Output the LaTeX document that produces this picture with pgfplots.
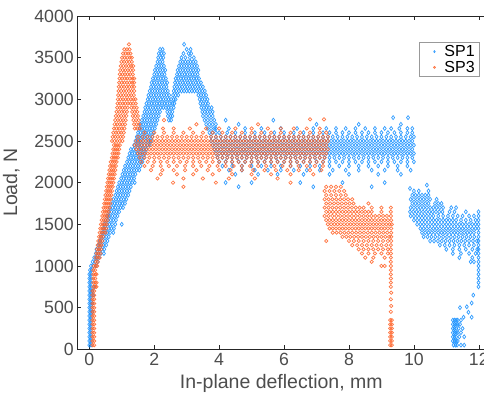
\documentclass[border=0pt]{standalone}
\usepackage{fontspec}
\setmainfont{Liberation Sans}
\usepackage{pgfplots}
\pgfplotsset{compat=1.18}
\definecolor{sp1}{RGB}{15,140,255}
\definecolor{sp3}{RGB}{255,95,35}
\definecolor{axgray}{RGB}{38,38,38}
\definecolor{lblgray}{RGB}{77,77,77}
\begin{document}
\begin{tikzpicture}
\begin{axis}[
  scale only axis, width=408pt, height=333.3pt,
  xmin=-0.37, xmax=12.2, ymin=0, ymax=4000,
  xtick={0,2,4,6,8,10,12}, ytick={0,500,1000,1500,2000,2500,3000,3500,4000},
  ytick pos=left,
  tick align=inside, major tick length=4pt,
  axis line style={axgray, line width=0.6pt},
  tick style={axgray, line width=0.6pt},
  /pgf/number format/assume math mode=true,
  scaled y ticks=false,
  yticklabel style={/pgf/number format/1000 sep={}},
  tick label style={font=\fontsize{17.7}{20}\selectfont, text=lblgray},
  xlabel={In-plane deflection, mm}, ylabel={Load, N},
  every axis x label/.style={at={([yshift=-39.7pt]axis description cs:0.5,0)}, anchor=base, font=\fontsize{19.5}{22}\selectfont, text=lblgray},
  every axis y label/.style={at={([xshift=-66pt]axis description cs:0,0.5)}, anchor=center, rotate=90, font=\fontsize{19.5}{22}\selectfont, text=lblgray},
  legend style={at={(axis description cs:0.987,0.922)}, anchor=north east, draw=black!40, line width=0.6pt, fill=white, font=\fontsize{16}{19}\selectfont, text=black, inner xsep=3pt, inner ysep=1pt, row sep=-1pt},
  legend cell align=left,
  legend image code/.code={\path[draw=none,fill=none] (0pt,0pt) rectangle (20pt,0.1pt); \path[#1,draw=none] plot[mark size=1pt] coordinates {(12pt,0pt)};},
]
\addplot[only marks, mark=diamond, mark size=2pt, color=sp1, mark options={draw=sp1, line width=0.7pt, draw opacity=0.85}] coordinates {
(0,50)(0.05,50)(0,100)(0.05,100)(0,150)(0.05,150)(0,200)(0.05,200)(0,250)(0.05,250)(0,300)(0.05,300)(0,350)(0.05,350)(0,400)(0.05,400)(0,450)(0.05,450)(0.1,450)(0,500)(0.05,500)(0,550)(0.05,550)(0.1,550)(0,600)(0.05,600)(0,650)(0.05,650)(0.12,650)(0,700)(0.05,700)(0.1,700)(0,750)(0.05,750)(0.15,750)(0,800)(0.05,800)(0,850)(0.05,850)(0,900)(0.05,900)(0.02,950)(0.07,950)(0.05,1000)(0.12,1000)(0.2,1000)
(0.1,1050)(0.18,1050)(0.26,1050)
(0.15,1100)(0.22,1100)(0.3,1100)
(0.2,1150)(0.28,1150)(0.36,1150)(0.45,1150)
(0.22,1200)(0.3,1200)(0.38,1200)(0.46,1200)
(0.28,1250)(0.36,1250)(0.44,1250)(0.52,1250)
(0.32,1300)(0.4,1300)(0.48,1300)(0.56,1300)
(0.36,1350)(0.44,1350)(0.52,1350)(0.6,1350)
(0.4,1400)(0.48,1400)(0.56,1400)(0.64,1400)(0.74,1400)
(0.44,1450)(0.52,1450)(0.6,1450)(0.68,1450)(0.76,1450)
(0.46,1500)(0.54,1500)(0.62,1500)(0.7,1500)(0.8,1500)(1.0,1500)
(0.5,1550)(0.58,1550)(0.66,1550)(0.74,1550)(0.82,1550)
(0.55,1600)(0.63,1600)(0.71,1600)(0.79,1600)(0.87,1600)
(0.6,1650)(0.68,1650)(0.76,1650)(0.84,1650)(0.92,1650)
(0.64,1700)(0.72,1700)(0.8,1700)(0.88,1700)(0.96,1700)(1.04,1700)
(0.7,1750)(0.78,1750)(0.86,1750)(0.94,1750)(1.02,1750)(1.1,1750)
(0.74,1800)(0.82,1800)(0.9,1800)(0.98,1800)(1.06,1800)(1.14,1800)
(0.8,1850)(0.88,1850)(0.96,1850)(1.04,1850)(1.12,1850)(1.2,1850)
(0.84,1900)(0.92,1900)(1.0,1900)(1.08,1900)(1.16,1900)(1.24,1900)
(0.88,1950)(0.96,1950)(1.04,1950)(1.12,1950)(1.2,1950)(1.28,1950)
(0.92,2000)(1.0,2000)(1.08,2000)(1.16,2000)(1.24,2000)(1.32,2000)(1.4,2000)
(0.98,2050)(1.06,2050)(1.14,2050)(1.22,2050)(1.3,2050)(1.38,2050)
(1.02,2100)(1.1,2100)(1.18,2100)(1.26,2100)(1.34,2100)(1.42,2100)
(1.06,2150)(1.14,2150)(1.22,2150)(1.3,2150)(1.38,2150)(1.46,2150)(1.54,2150)
(1.1,2200)(1.18,2200)(1.26,2200)(1.34,2200)(1.42,2200)(1.5,2200)(1.58,2200)
(1.16,2250)(1.24,2250)(1.32,2250)(1.4,2250)(1.48,2250)(1.56,2250)(1.64,2250)
(1.2,2300)(1.28,2300)(1.36,2300)(1.44,2300)(1.52,2300)(1.6,2300)(1.68,2300)
(1.24,2350)(1.32,2350)(1.4,2350)(1.48,2350)(1.56,2350)(1.64,2350)(1.72,2350)
(1.28,2400)(1.36,2400)(1.44,2400)(1.52,2400)(1.6,2400)(1.68,2400)(1.76,2400)
(1.38,2450)(1.46,2450)(1.54,2450)(1.62,2450)(1.7,2450)(1.78,2450)(1.86,2450)(3.8,2450)
(1.42,2500)(1.5,2500)(1.58,2500)(1.66,2500)(1.74,2500)(1.82,2500)(1.9,2500)(3.75,2500)
(1.46,2550)(1.54,2550)(1.62,2550)(1.7,2550)(1.78,2550)(1.86,2550)(1.94,2550)(3.75,2550)
(1.5,2600)(1.58,2600)(1.66,2600)(1.74,2600)(1.82,2600)(1.9,2600)(1.98,2600)(3.7,2600)(3.8,2600)(3.9,2600)
(1.54,2650)(1.62,2650)(1.7,2650)(1.78,2650)(1.86,2650)(1.94,2650)(2.02,2650)(3.65,2650)(3.75,2650)(3.85,2650)
(1.58,2700)(1.66,2700)(1.74,2700)(1.82,2700)(1.9,2700)(1.98,2700)(2.06,2700)(3.6,2700)(3.7,2700)(3.8,2700)(3.9,2700)
(1.62,2750)(1.7,2750)(1.78,2750)(1.86,2750)(1.94,2750)(2.02,2750)(2.1,2750)(2.45,2750)(2.52,2750)(3.55,2750)(3.65,2750)(3.75,2750)(3.85,2750)
(1.66,2800)(1.74,2800)(1.82,2800)(1.9,2800)(1.98,2800)(2.06,2800)(2.14,2800)(2.42,2800)(2.5,2800)(2.56,2800)(3.5,2800)(3.6,2800)(3.7,2800)(3.8,2800)
(1.7,2850)(1.78,2850)(1.86,2850)(1.94,2850)(2.02,2850)(2.1,2850)(2.18,2850)(2.4,2850)(2.48,2850)(2.56,2850)(3.48,2850)(3.56,2850)(3.64,2850)(3.72,2850)(3.8,2850)
(1.72,2900)(1.8,2900)(1.88,2900)(1.96,2900)(2.04,2900)(2.12,2900)(2.2,2900)(2.28,2900)(2.36,2900)(2.44,2900)(2.52,2900)(2.6,2900)(3.45,2900)(3.53,2900)(3.61,2900)(3.69,2900)(3.77,2900)
(1.76,2950)(1.84,2950)(1.92,2950)(2.0,2950)(2.08,2950)(2.16,2950)(2.24,2950)(2.32,2950)(2.4,2950)(2.48,2950)(2.56,2950)(2.62,2950)(3.42,2950)(3.5,2950)(3.58,2950)(3.66,2950)
(1.8,3000)(1.88,3000)(1.96,3000)(2.04,3000)(2.12,3000)(2.2,3000)(2.28,3000)(2.36,3000)(2.44,3000)(2.52,3000)(2.6,3000)(2.66,3000)(3.4,3000)(3.48,3000)(3.56,3000)(3.64,3000)
(1.82,3050)(1.9,3050)(1.98,3050)(2.06,3050)(2.14,3050)(2.22,3050)(2.3,3050)(2.38,3050)(2.46,3050)(2.58,3050)(2.66,3050)(2.74,3050)(3.36,3050)(3.44,3050)(3.52,3050)(3.6,3050)
(1.86,3100)(1.94,3100)(2.02,3100)(2.1,3100)(2.18,3100)(2.26,3100)(2.34,3100)(2.42,3100)(2.6,3100)(2.68,3100)(2.76,3100)(2.84,3100)(2.92,3100)(3.0,3100)(3.08,3100)(3.16,3100)(3.24,3100)(3.32,3100)(3.4,3100)(3.48,3100)(3.56,3100)
(1.9,3150)(1.98,3150)(2.06,3150)(2.14,3150)(2.22,3150)(2.3,3150)(2.38,3150)(2.62,3150)(2.7,3150)(2.78,3150)(2.86,3150)(2.94,3150)(3.02,3150)(3.1,3150)(3.18,3150)(3.26,3150)(3.34,3150)(3.42,3150)(3.5,3150)
(1.92,3200)(2.0,3200)(2.08,3200)(2.16,3200)(2.24,3200)(2.32,3200)(2.4,3200)(2.64,3200)(2.72,3200)(2.8,3200)(2.88,3200)(2.96,3200)(3.04,3200)(3.12,3200)(3.2,3200)(3.28,3200)(3.36,3200)(3.44,3200)
(1.96,3250)(2.04,3250)(2.12,3250)(2.2,3250)(2.28,3250)(2.36,3250)(2.66,3250)(2.74,3250)(2.82,3250)(2.9,3250)(2.98,3250)(3.06,3250)(3.14,3250)(3.22,3250)(3.3,3250)(3.38,3250)
(2.0,3300)(2.08,3300)(2.16,3300)(2.24,3300)(2.32,3300)(2.7,3300)(2.78,3300)(2.86,3300)(2.94,3300)(3.02,3300)(3.1,3300)(3.18,3300)(3.26,3300)(3.34,3300)
(2.02,3350)(2.1,3350)(2.18,3350)(2.26,3350)(2.34,3350)(2.72,3350)(2.8,3350)(2.88,3350)(2.96,3350)(3.04,3350)(3.12,3350)(3.2,3350)(3.28,3350)(3.36,3350)
(2.06,3400)(2.14,3400)(2.22,3400)(2.3,3400)(2.76,3400)(2.84,3400)(2.92,3400)(3.0,3400)(3.08,3400)(3.16,3400)(3.24,3400)(3.32,3400)
(2.1,3450)(2.18,3450)(2.26,3450)(2.8,3450)(2.88,3450)(2.96,3450)(3.04,3450)(3.12,3450)(3.2,3450)(3.28,3450)
(2.12,3500)(2.2,3500)(2.28,3500)(2.84,3500)(2.96,3500)(3.1,3500)(3.22,3500)
(2.14,3550)(2.22,3550)(2.3,3550)(2.9,3550)(3.06,3550)(3.14,3550)
(2.18,3600)(2.26,3600)(3.0,3600)(3.12,3600)
(2.92,3660)
(4.2,2750)(5.67,2750)(9.36,2780)(9.82,2780)
(4.6,2700)(7.0,2700)(8.3,2700)(9.6,2700)
(3.9,2650)(4.3,2650)(4.8,2650)(5.3,2650)(5.9,2650)(6.4,2650)(6.9,2650)(7.3,2650)(7.6,2650)(7.9,2650)(8.2,2650)(8.5,2650)(8.8,2650)(9.1,2650)(9.3,2650)(9.55,2650)(9.8,2650)(9.95,2650)
(4.0,2600)(4.25,2600)(4.5,2600)(4.8,2600)(5.1,2600)(5.4,2600)(5.7,2600)(6.0,2600)(6.3,2600)(6.6,2600)(6.9,2600)(7.2,2600)(7.4,2600)(7.6,2600)(7.8,2600)(8.0,2600)(8.2,2600)(8.4,2600)(8.6,2600)(8.8,2600)(9.0,2600)(9.2,2600)(9.4,2600)(9.6,2600)(9.8,2600)(9.95,2600)
(3.9,2550)(4.05,2550)(4.2,2550)(4.35,2550)(4.5,2550)(4.65,2550)(4.8,2550)(4.95,2550)(5.1,2550)(5.25,2550)(5.4,2550)(5.55,2550)(5.7,2550)(5.85,2550)(6.0,2550)(6.15,2550)(6.3,2550)(6.45,2550)(6.6,2550)(6.75,2550)(6.9,2550)(7.05,2550)(7.2,2550)(7.35,2550)(7.5,2550)(7.65,2550)(7.8,2550)(7.95,2550)(8.1,2550)(8.25,2550)(8.4,2550)(8.55,2550)(8.7,2550)(8.85,2550)(9.0,2550)(9.15,2550)(9.3,2550)(9.45,2550)(9.6,2550)(9.75,2550)(9.9,2550)(10.0,2550)
(3.85,2500)(3.95,2500)(4.05,2500)(4.15,2500)(4.25,2500)(4.35,2500)(4.45,2500)(4.55,2500)(4.65,2500)(4.75,2500)(4.85,2500)(4.95,2500)(5.05,2500)(5.15,2500)(5.25,2500)(5.35,2500)(5.45,2500)(5.55,2500)(5.65,2500)(5.75,2500)(5.85,2500)(5.95,2500)(6.05,2500)(6.15,2500)(6.25,2500)(6.35,2500)(6.45,2500)(6.55,2500)(6.65,2500)(6.75,2500)(6.85,2500)(6.95,2500)(7.05,2500)(7.15,2500)(7.25,2500)(7.35,2500)(7.45,2500)(7.55,2500)(7.65,2500)(7.75,2500)(7.85,2500)(7.95,2500)(8.05,2500)(8.15,2500)(8.25,2500)(8.35,2500)(8.45,2500)(8.55,2500)(8.65,2500)(8.75,2500)(8.85,2500)(8.95,2500)(9.05,2500)(9.15,2500)(9.25,2500)(9.35,2500)(9.45,2500)(9.55,2500)(9.65,2500)(9.75,2500)(9.85,2500)(9.95,2500)
(3.9,2450)(4.0,2450)(4.1,2450)(4.2,2450)(4.3,2450)(4.4,2450)(4.5,2450)(4.6,2450)(4.7,2450)(4.8,2450)(4.9,2450)(5.0,2450)(5.1,2450)(5.2,2450)(5.3,2450)(5.4,2450)(5.5,2450)(5.6,2450)(5.7,2450)(5.8,2450)(5.9,2450)(6.0,2450)(6.1,2450)(6.2,2450)(6.3,2450)(6.4,2450)(6.5,2450)(6.6,2450)(6.7,2450)(6.8,2450)(6.9,2450)(7.0,2450)(7.1,2450)(7.2,2450)(7.3,2450)(7.4,2450)(7.5,2450)(7.6,2450)(7.7,2450)(7.8,2450)(7.9,2450)(8.0,2450)(8.1,2450)(8.2,2450)(8.3,2450)(8.4,2450)(8.5,2450)(8.6,2450)(8.7,2450)(8.8,2450)(8.9,2450)(9.0,2450)(9.1,2450)(9.2,2450)(9.3,2450)(9.4,2450)(9.5,2450)(9.6,2450)(9.7,2450)(9.8,2450)(9.9,2450)(10.0,2450)
(3.85,2400)(3.95,2400)(4.05,2400)(4.15,2400)(4.25,2400)(4.35,2400)(4.45,2400)(4.55,2400)(4.65,2400)(4.75,2400)(4.85,2400)(4.95,2400)(5.05,2400)(5.15,2400)(5.25,2400)(5.35,2400)(5.45,2400)(5.55,2400)(5.65,2400)(5.75,2400)(5.85,2400)(5.95,2400)(6.05,2400)(6.15,2400)(6.25,2400)(6.35,2400)(6.45,2400)(6.55,2400)(6.65,2400)(6.75,2400)(6.85,2400)(6.95,2400)(7.05,2400)(7.15,2400)(7.25,2400)(7.35,2400)(7.45,2400)(7.55,2400)(7.65,2400)(7.75,2400)(7.85,2400)(7.95,2400)(8.05,2400)(8.15,2400)(8.25,2400)(8.35,2400)(8.45,2400)(8.55,2400)(8.65,2400)(8.75,2400)(8.85,2400)(8.95,2400)(9.05,2400)(9.15,2400)(9.25,2400)(9.35,2400)(9.45,2400)(9.55,2400)(9.65,2400)(9.75,2400)(9.85,2400)(9.95,2400)
(3.9,2350)(4.0,2350)(4.1,2350)(4.2,2350)(4.3,2350)(4.4,2350)(4.5,2350)(4.6,2350)(4.7,2350)(4.8,2350)(4.9,2350)(5.0,2350)(5.1,2350)(5.2,2350)(5.3,2350)(5.4,2350)(5.5,2350)(5.6,2350)(5.7,2350)(5.8,2350)(5.9,2350)(6.0,2350)(6.1,2350)(6.2,2350)(6.3,2350)(6.4,2350)(6.5,2350)(6.6,2350)(6.7,2350)(6.8,2350)(6.9,2350)(7.0,2350)(7.1,2350)(7.2,2350)(7.3,2350)(7.4,2350)(7.5,2350)(7.6,2350)(7.7,2350)(7.8,2350)(7.9,2350)(8.0,2350)(8.1,2350)(8.2,2350)(8.3,2350)(8.4,2350)(8.5,2350)(8.6,2350)(8.7,2350)(8.8,2350)(8.9,2350)(9.0,2350)(9.1,2350)(9.2,2350)(9.3,2350)(9.4,2350)(9.5,2350)(9.6,2350)(9.7,2350)(9.8,2350)(9.9,2350)(10.0,2350)
(3.95,2300)(4.1,2300)(4.25,2300)(4.4,2300)(4.55,2300)(4.7,2300)(4.85,2300)(5.0,2300)(5.15,2300)(5.3,2300)(5.45,2300)(5.6,2300)(5.75,2300)(5.9,2300)(6.05,2300)(6.2,2300)(6.35,2300)(6.5,2300)(6.65,2300)(6.8,2300)(6.95,2300)(7.1,2300)(7.25,2300)(7.4,2300)(7.55,2300)(7.7,2300)(7.85,2300)(8.0,2300)(8.15,2300)(8.3,2300)(8.45,2300)(8.6,2300)(8.75,2300)(8.9,2300)(9.05,2300)(9.2,2300)(9.35,2300)(9.5,2300)(9.65,2300)(9.8,2300)(9.95,2300)
(4.0,2250)(4.2,2250)(4.4,2250)(4.6,2250)(4.8,2250)(5.0,2250)(5.2,2250)(5.4,2250)(5.6,2250)(5.8,2250)(6.0,2250)(6.2,2250)(6.4,2250)(6.6,2250)(6.8,2250)(7.0,2250)(7.2,2250)(7.4,2250)(7.6,2250)(7.8,2250)(8.0,2250)(8.2,2250)(8.4,2250)(8.6,2250)(8.8,2250)(9.0,2250)(9.2,2250)(9.4,2250)(9.6,2250)(9.8,2250)(10.0,2250)
(4.1,2200)(4.4,2200)(4.7,2200)(5.0,2200)(5.3,2200)(5.6,2200)(5.9,2200)(6.2,2200)(6.5,2200)(6.8,2200)(7.1,2200)(7.4,2200)(7.7,2200)(8.0,2200)(8.3,2200)(8.6,2200)(8.9,2200)(9.2,2200)(9.5,2200)(9.8,2200)
(4.3,2150)(4.7,2150)(5.1,2150)(5.5,2150)(5.9,2150)(6.3,2150)(6.7,2150)(7.1,2150)(7.5,2150)(7.9,2150)(8.3,2150)(8.7,2150)(9.1,2150)(9.5,2150)(9.9,2150)
(4.5,2100)(5.2,2100)(5.8,2100)(6.6,2100)(7.4,2100)(8.0,2100)(8.9,2100)(9.6,2100)
(4.2,2000)(5.0,2000)(6.5,2000)(7.8,2000)(9.1,2000)
(4.6,1950)(6.9,1950)(8.7,1950)
(10.4,1970)(9.88,1930)
(10.0,1900)(10.15,1900)(10.45,1900)
(9.95,1850)(10.05,1850)(10.15,1850)(10.25,1850)(10.35,1850)(10.45,1850)
(9.9,1800)(10.0,1800)(10.1,1800)(10.2,1800)(10.3,1800)(10.4,1800)(10.5,1800)(10.7,1800)
(9.95,1750)(10.05,1750)(10.15,1750)(10.25,1750)(10.35,1750)(10.45,1750)(10.65,1750)(10.75,1750)(10.85,1750)
(9.9,1700)(10.0,1700)(10.1,1700)(10.2,1700)(10.3,1700)(10.4,1700)(10.5,1700)(10.6,1700)(10.7,1700)(10.8,1700)(10.9,1700)(11.15,1700)(11.3,1700)
(9.88,1650)(9.98,1650)(10.08,1650)(10.18,1650)(10.28,1650)(10.38,1650)(10.48,1650)(10.58,1650)(10.68,1650)(10.78,1650)(10.88,1650)(11.1,1650)(11.25,1650)(11.6,1650)(11.99,1650)
(9.9,1600)(10.0,1600)(10.1,1600)(10.2,1600)(10.3,1600)(10.4,1600)(10.5,1600)(10.6,1600)(10.75,1600)(10.9,1600)(11.05,1600)(11.2,1600)(11.35,1600)(11.5,1600)(11.7,1600)(11.85,1600)(11.99,1600)
(10.0,1550)(10.1,1550)(10.2,1550)(10.3,1550)(10.4,1550)(10.5,1550)(10.6,1550)(10.7,1550)(10.8,1550)(10.9,1550)(11.0,1550)(11.1,1550)(11.2,1550)(11.3,1550)(11.45,1550)(11.6,1550)(11.75,1550)(11.9,1550)(11.99,1550)
(10.1,1500)(10.2,1500)(10.3,1500)(10.4,1500)(10.5,1500)(10.6,1500)(10.7,1500)(10.8,1500)(10.9,1500)(11.0,1500)(11.1,1500)(11.2,1500)(11.3,1500)(11.4,1500)(11.5,1500)(11.6,1500)(11.7,1500)(11.8,1500)(11.9,1500)(11.99,1500)
(10.2,1450)(10.3,1450)(10.4,1450)(10.5,1450)(10.6,1450)(10.7,1450)(10.8,1450)(10.9,1450)(11.0,1450)(11.1,1450)(11.2,1450)(11.3,1450)(11.4,1450)(11.5,1450)(11.6,1450)(11.7,1450)(11.8,1450)(11.9,1450)(11.99,1450)
(10.25,1400)(10.35,1400)(10.45,1400)(10.55,1400)(10.65,1400)(10.75,1400)(10.85,1400)(10.95,1400)(11.05,1400)(11.15,1400)(11.25,1400)(11.35,1400)(11.45,1400)(11.55,1400)(11.65,1400)(11.75,1400)(11.85,1400)(11.99,1400)
(10.3,1350)(10.42,1350)(10.54,1350)(10.66,1350)(10.78,1350)(10.9,1350)(11.02,1350)(11.14,1350)(11.26,1350)(11.38,1350)(11.5,1350)(11.62,1350)(11.74,1350)(11.86,1350)(11.99,1350)
(10.5,1300)(10.62,1300)(10.74,1300)(10.86,1300)(10.98,1300)(11.1,1300)(11.22,1300)(11.34,1300)(11.46,1300)(11.58,1300)(11.7,1300)(11.82,1300)(11.94,1300)(11.99,1300)
(10.8,1250)(10.95,1250)(11.1,1250)(11.25,1250)(11.4,1250)(11.55,1250)(11.7,1250)(11.85,1250)(11.99,1250)
(11.0,1200)(11.2,1200)(11.4,1200)(11.6,1200)(11.8,1200)(11.95,1200)(11.99,1200)
(11.2,1150)(11.45,1150)(11.7,1150)(11.9,1150)(11.99,1150)
(11.4,1100)(11.8,1100)(11.99,1100)
(11.75,1050)(11.85,1050)(11.99,1050)
(11.99,1000)(11.99,950)(11.99,900)(11.99,850)(11.99,800)(11.99,750)
(11.83,650)(11.78,555)(11.63,510)(11.42,500)(11.68,445)(11.53,385)(11.78,385)
(11.2,350)(11.25,350)(11.3,350)(11.35,350)(11.45,350)
(11.2,300)(11.25,300)(11.3,300)(11.35,300)(11.42,300)
(11.2,250)(11.25,250)(11.3,250)(11.38,250)(11.5,250)
(11.2,200)(11.25,200)(11.3,200)(11.35,200)(11.45,200)
(11.2,150)(11.25,150)(11.3,150)(11.4,150)(11.55,150)
(11.2,100)(11.25,100)(11.3,100)(11.35,100)
(11.22,50)(11.28,50)(11.33,50)(11.45,50)(11.55,50)
};
\addlegendentry{SP1}
\addplot[only marks, mark=o, mark size=1.7pt, color=sp3, mark options={draw=sp3, line width=0.7pt, draw opacity=0.85}] coordinates {
(0.1,50)(0.15,50)(0.1,100)(0.15,100)(0.1,150)(0.15,150)(0.1,200)(0.15,200)(0.1,250)(0.15,250)(0.1,300)(0.15,300)(0.1,350)(0.15,350)(0.1,400)(0.15,400)(0.1,450)(0.15,450)(0.1,500)(0.15,500)(0.1,550)(0.15,550)(0.1,600)(0.15,600)(0.1,650)(0.15,650)(0.1,700)(0.15,700)
(0.12,750)(0.18,750)(0.22,750)(0.12,800)(0.18,800)(0.22,800)(0.12,850)(0.18,850)(0.12,900)(0.18,900)(0.22,900)(0.12,950)(0.18,950)(0.14,1000)(0.2,1000)(0.24,1000)
(0.2,1050)(0.26,1050)
(0.2,1100)(0.26,1100)(0.32,1100)
(0.22,1150)(0.28,1150)(0.34,1150)
(0.24,1200)(0.3,1200)(0.36,1200)
(0.26,1250)(0.32,1250)(0.38,1250)
(0.28,1300)(0.34,1300)(0.4,1300)
(0.3,1350)(0.36,1350)(0.42,1350)
(0.32,1400)(0.38,1400)(0.44,1400)(0.5,1400)
(0.34,1450)(0.4,1450)(0.46,1450)(0.52,1450)
(0.36,1500)(0.42,1500)(0.48,1500)(0.54,1500)
(0.38,1550)(0.44,1550)(0.5,1550)(0.56,1550)
(0.4,1600)(0.46,1600)(0.52,1600)(0.58,1600)
(0.42,1650)(0.48,1650)(0.54,1650)(0.6,1650)
(0.44,1700)(0.5,1700)(0.56,1700)(0.62,1700)
(0.46,1750)(0.52,1750)(0.58,1750)(0.64,1750)
(0.48,1800)(0.54,1800)(0.6,1800)(0.66,1800)
(0.5,1850)(0.56,1850)(0.62,1850)(0.68,1850)
(0.52,1900)(0.58,1900)(0.64,1900)(0.7,1900)
(0.54,1950)(0.6,1950)(0.66,1950)(0.72,1950)
(0.56,2000)(0.62,2000)(0.68,2000)(0.74,2000)
(0.58,2050)(0.64,2050)(0.7,2050)(0.76,2050)
(0.6,2100)(0.66,2100)(0.72,2100)(0.78,2100)
(0.62,2150)(0.68,2150)(0.74,2150)(0.8,2150)
(0.64,2200)(0.7,2200)(0.76,2200)(0.82,2200)
(0.66,2250)(0.72,2250)(0.78,2250)(0.84,2250)
(0.7,2300)(0.76,2300)(0.82,2300)(0.88,2300)
(0.72,2350)(0.78,2350)(0.84,2350)(0.9,2350)
(0.74,2400)(0.8,2400)(0.86,2400)(0.92,2400)
(0.76,2450)(0.82,2450)(0.88,2450)(0.94,2450)
(0.7,2500)(0.78,2500)(0.86,2500)(0.94,2500)(1.02,2500)
(0.72,2550)(0.8,2550)(0.88,2550)(0.96,2550)(1.04,2550)
(0.74,2600)(0.82,2600)(0.9,2600)(0.98,2600)(1.06,2600)
(0.76,2650)(0.84,2650)(0.92,2650)(1.0,2650)(1.08,2650)(1.4,2650)(1.48,2650)(1.56,2650)
(0.78,2700)(0.86,2700)(0.94,2700)(1.02,2700)(1.1,2700)(1.38,2700)(1.46,2700)(1.54,2700)
(0.8,2750)(0.88,2750)(0.96,2750)(1.04,2750)(1.12,2750)(1.36,2750)(1.44,2750)(1.52,2750)
(0.82,2800)(0.9,2800)(0.98,2800)(1.06,2800)(1.14,2800)(1.34,2800)(1.42,2800)(1.5,2800)
(0.84,2850)(0.92,2850)(1.0,2850)(1.08,2850)(1.16,2850)(1.32,2850)(1.4,2850)(1.48,2850)
(0.86,2900)(0.94,2900)(1.02,2900)(1.1,2900)(1.18,2900)(1.3,2900)(1.38,2900)(1.46,2900)
(0.87,2950)(0.95,2950)(1.03,2950)(1.11,2950)(1.19,2950)(1.27,2950)(1.35,2950)(1.43,2950)
(0.88,3000)(0.96,3000)(1.04,3000)(1.12,3000)(1.2,3000)(1.28,3000)(1.36,3000)(1.42,3000)
(0.89,3050)(0.97,3050)(1.05,3050)(1.13,3050)(1.21,3050)(1.29,3050)(1.37,3050)
(0.9,3100)(0.98,3100)(1.06,3100)(1.14,3100)(1.22,3100)(1.3,3100)(1.38,3100)
(0.91,3150)(0.99,3150)(1.07,3150)(1.15,3150)(1.23,3150)(1.31,3150)(1.38,3150)
(0.92,3200)(1.0,3200)(1.08,3200)(1.16,3200)(1.24,3200)(1.32,3200)(1.38,3200)
(0.93,3250)(1.01,3250)(1.09,3250)(1.17,3250)(1.25,3250)(1.33,3250)(1.38,3250)
(0.94,3300)(1.02,3300)(1.1,3300)(1.18,3300)(1.26,3300)(1.34,3300)
(0.95,3350)(1.03,3350)(1.11,3350)(1.19,3350)(1.27,3350)(1.35,3350)
(0.97,3400)(1.05,3400)(1.13,3400)(1.21,3400)(1.29,3400)(1.35,3400)
(0.99,3450)(1.07,3450)(1.15,3450)(1.23,3450)(1.31,3450)
(1.01,3500)(1.09,3500)(1.17,3500)(1.25,3500)(1.31,3500)
(1.04,3550)(1.12,3550)(1.2,3550)(1.27,3550)
(1.08,3600)(1.16,3600)(1.24,3600)
(1.22,3660)
(2.3,2750)(6.8,2760)(7.23,2760)
(3.3,2700)(5.2,2700)
(2.27,2650)(2.6,2650)(3.1,2650)(3.6,2650)(4.0,2650)(4.5,2650)(5.0,2650)(5.5,2650)(5.9,2650)(6.3,2650)(6.7,2650)(7.1,2650)
(1.7,2600)(2.0,2600)(2.3,2600)(2.6,2600)(2.9,2600)(3.2,2600)(3.5,2600)(3.8,2600)(4.1,2600)(4.4,2600)(4.7,2600)(5.0,2600)(5.3,2600)(5.6,2600)(5.9,2600)(6.2,2600)(6.5,2600)(6.8,2600)(7.1,2600)(7.3,2600)
(1.5,2550)(1.65,2550)(1.8,2550)(1.95,2550)(2.1,2550)(2.25,2550)(2.4,2550)(2.55,2550)(2.7,2550)(2.85,2550)(3.0,2550)(3.15,2550)(3.3,2550)(3.45,2550)(3.6,2550)(3.75,2550)(3.9,2550)(4.05,2550)(4.2,2550)(4.35,2550)(4.5,2550)(4.65,2550)(4.8,2550)(4.95,2550)(5.1,2550)(5.25,2550)(5.4,2550)(5.55,2550)(5.7,2550)(5.85,2550)(6.0,2550)(6.15,2550)(6.3,2550)(6.45,2550)(6.6,2550)(6.75,2550)(6.9,2550)(7.05,2550)(7.2,2550)(7.35,2550)
(1.45,2500)(1.55,2500)(1.65,2500)(1.75,2500)(1.85,2500)(1.95,2500)(2.05,2500)(2.15,2500)(2.25,2500)(2.35,2500)(2.45,2500)(2.55,2500)(2.65,2500)(2.75,2500)(2.85,2500)(2.95,2500)(3.05,2500)(3.15,2500)(3.25,2500)(3.35,2500)(3.45,2500)(3.55,2500)(3.65,2500)(3.75,2500)(3.85,2500)(3.95,2500)(4.05,2500)(4.15,2500)(4.25,2500)(4.35,2500)(4.45,2500)(4.55,2500)(4.65,2500)(4.75,2500)(4.85,2500)(4.95,2500)(5.05,2500)(5.15,2500)(5.25,2500)(5.35,2500)(5.45,2500)(5.55,2500)(5.65,2500)(5.75,2500)(5.85,2500)(5.95,2500)(6.05,2500)(6.15,2500)(6.25,2500)(6.35,2500)(6.45,2500)(6.55,2500)(6.65,2500)(6.75,2500)(6.85,2500)(6.95,2500)(7.05,2500)(7.15,2500)(7.25,2500)(7.35,2500)
(1.4,2450)(1.5,2450)(1.6,2450)(1.7,2450)(1.8,2450)(1.9,2450)(2.0,2450)(2.1,2450)(2.2,2450)(2.3,2450)(2.4,2450)(2.5,2450)(2.6,2450)(2.7,2450)(2.8,2450)(2.9,2450)(3.0,2450)(3.1,2450)(3.2,2450)(3.3,2450)(3.4,2450)(3.5,2450)(3.6,2450)(3.7,2450)(3.8,2450)(3.9,2450)(4.0,2450)(4.1,2450)(4.2,2450)(4.3,2450)(4.4,2450)(4.5,2450)(4.6,2450)(4.7,2450)(4.8,2450)(4.9,2450)(5.0,2450)(5.1,2450)(5.2,2450)(5.3,2450)(5.4,2450)(5.5,2450)(5.6,2450)(5.7,2450)(5.8,2450)(5.9,2450)(6.0,2450)(6.1,2450)(6.2,2450)(6.3,2450)(6.4,2450)(6.5,2450)(6.6,2450)(6.7,2450)(6.8,2450)(6.9,2450)(7.0,2450)(7.1,2450)(7.2,2450)(7.3,2450)
(1.45,2400)(1.55,2400)(1.65,2400)(1.75,2400)(1.85,2400)(1.95,2400)(2.05,2400)(2.15,2400)(2.25,2400)(2.35,2400)(2.45,2400)(2.55,2400)(2.65,2400)(2.75,2400)(2.85,2400)(2.95,2400)(3.05,2400)(3.15,2400)(3.25,2400)(3.35,2400)(3.45,2400)(3.55,2400)(3.65,2400)(3.75,2400)(3.85,2400)(3.95,2400)(4.05,2400)(4.15,2400)(4.25,2400)(4.35,2400)(4.45,2400)(4.55,2400)(4.65,2400)(4.75,2400)(4.85,2400)(4.95,2400)(5.05,2400)(5.15,2400)(5.25,2400)(5.35,2400)(5.45,2400)(5.55,2400)(5.65,2400)(5.75,2400)(5.85,2400)(5.95,2400)(6.05,2400)(6.15,2400)(6.25,2400)(6.35,2400)(6.45,2400)(6.55,2400)(6.65,2400)(6.75,2400)(6.85,2400)(6.95,2400)(7.05,2400)(7.15,2400)(7.25,2400)(7.35,2400)
(1.5,2350)(1.6,2350)(1.7,2350)(1.8,2350)(1.9,2350)(2.0,2350)(2.1,2350)(2.2,2350)(2.3,2350)(2.4,2350)(2.5,2350)(2.6,2350)(2.7,2350)(2.8,2350)(2.9,2350)(3.0,2350)(3.1,2350)(3.2,2350)(3.3,2350)(3.4,2350)(3.5,2350)(3.6,2350)(3.7,2350)(3.8,2350)(3.9,2350)(4.0,2350)(4.1,2350)(4.2,2350)(4.3,2350)(4.4,2350)(4.5,2350)(4.6,2350)(4.7,2350)(4.8,2350)(4.9,2350)(5.0,2350)(5.1,2350)(5.2,2350)(5.3,2350)(5.4,2350)(5.5,2350)(5.6,2350)(5.7,2350)(5.8,2350)(5.9,2350)(6.0,2350)(6.1,2350)(6.2,2350)(6.3,2350)(6.4,2350)(6.5,2350)(6.6,2350)(6.7,2350)(6.8,2350)(6.9,2350)(7.0,2350)(7.1,2350)(7.2,2350)(7.3,2350)
(1.55,2300)(1.7,2300)(1.85,2300)(2.0,2300)(2.15,2300)(2.3,2300)(2.45,2300)(2.6,2300)(2.75,2300)(2.9,2300)(3.05,2300)(3.2,2300)(3.35,2300)(3.5,2300)(3.65,2300)(3.8,2300)(3.95,2300)(4.1,2300)(4.25,2300)(4.4,2300)(4.55,2300)(4.7,2300)(4.85,2300)(5.0,2300)(5.15,2300)(5.3,2300)(5.45,2300)(5.6,2300)(5.75,2300)(5.9,2300)(6.05,2300)(6.2,2300)(6.35,2300)(6.5,2300)(6.65,2300)(6.8,2300)(6.95,2300)(7.1,2300)(7.25,2300)
(1.6,2250)(1.8,2250)(2.0,2250)(2.2,2250)(2.4,2250)(2.6,2250)(2.8,2250)(3.0,2250)(3.2,2250)(3.4,2250)(3.6,2250)(3.8,2250)(4.0,2250)(4.2,2250)(4.4,2250)(4.6,2250)(4.8,2250)(5.0,2250)(5.2,2250)(5.4,2250)(5.6,2250)(5.8,2250)(6.0,2250)(6.2,2250)(6.4,2250)(6.6,2250)(6.8,2250)(7.0,2250)(7.2,2250)
(1.7,2200)(1.95,2200)(2.2,2200)(2.45,2200)(2.7,2200)(2.95,2200)(3.2,2200)(3.45,2200)(3.7,2200)(3.95,2200)(4.2,2200)(4.45,2200)(4.7,2200)(4.95,2200)(5.2,2200)(5.45,2200)(5.7,2200)(5.95,2200)(6.2,2200)(6.45,2200)(6.7,2200)(6.95,2200)(7.2,2200)
(1.9,2150)(2.25,2150)(2.6,2150)(2.95,2150)(3.3,2150)(3.65,2150)(4.0,2150)(4.35,2150)(4.7,2150)(5.05,2150)(5.4,2150)(5.75,2150)(6.1,2150)(6.45,2150)(6.8,2150)(7.15,2150)
(2.2,2100)(2.7,2100)(3.2,2100)(3.8,2100)(4.4,2100)(5.0,2100)(5.6,2100)(6.2,2100)(6.9,2100)
(2.1,2050)(2.9,2050)(3.5,2050)(4.3,2050)(5.1,2050)(5.8,2050)
(2.58,2000)(3.9,2000)(6.2,2000)(2.9,1950)
(7.3,1950)(7.45,1950)(7.6,1950)(7.75,1950)
(7.25,1900)(7.4,1900)(7.55,1900)(7.7,1900)(7.85,1900)
(7.3,1850)(7.45,1850)(7.6,1850)(7.75,1850)(7.9,1850)
(7.25,1800)(7.37,1800)(7.49,1800)(7.61,1800)(7.73,1800)(7.85,1800)(7.97,1800)(8.1,1800)
(7.3,1750)(7.42,1750)(7.54,1750)(7.66,1750)(7.78,1750)(7.9,1750)(8.02,1750)(8.14,1750)(8.6,1750)
(7.25,1700)(7.37,1700)(7.49,1700)(7.61,1700)(7.73,1700)(7.85,1700)(7.97,1700)(8.09,1700)(8.21,1700)(8.33,1700)(8.45,1700)(8.7,1700)(9.0,1700)(9.29,1700)
(7.3,1650)(7.4,1650)(7.5,1650)(7.6,1650)(7.7,1650)(7.8,1650)(7.9,1650)(8.0,1650)(8.1,1650)(8.2,1650)(8.3,1650)(8.4,1650)(8.5,1650)(8.6,1650)(8.7,1650)(9.0,1650)(9.29,1650)
(7.25,1600)(7.37,1600)(7.49,1600)(7.61,1600)(7.73,1600)(7.85,1600)(7.97,1600)(8.09,1600)(8.21,1600)(8.33,1600)(8.45,1600)(8.57,1600)(8.69,1600)(8.81,1600)(8.93,1600)(9.05,1600)(9.17,1600)(9.29,1600)
(7.3,1550)(7.4,1550)(7.5,1550)(7.6,1550)(7.7,1550)(7.8,1550)(7.9,1550)(8.0,1550)(8.1,1550)(8.2,1550)(8.3,1550)(8.4,1550)(8.5,1550)(8.6,1550)(8.7,1550)(8.8,1550)(8.9,1550)(9.0,1550)(9.1,1550)(9.2,1550)(9.3,1550)
(7.35,1500)(7.45,1500)(7.55,1500)(7.65,1500)(7.75,1500)(7.85,1500)(7.95,1500)(8.05,1500)(8.15,1500)(8.25,1500)(8.35,1500)(8.45,1500)(8.55,1500)(8.65,1500)(8.75,1500)(8.85,1500)(8.95,1500)(9.05,1500)(9.15,1500)(9.25,1500)(9.32,1500)
(7.4,1450)(7.5,1450)(7.6,1450)(7.7,1450)(7.8,1450)(7.9,1450)(8.0,1450)(8.1,1450)(8.2,1450)(8.3,1450)(8.4,1450)(8.5,1450)(8.6,1450)(8.7,1450)(8.8,1450)(8.9,1450)(9.0,1450)(9.1,1450)(9.2,1450)(9.3,1450)
(7.5,1400)(7.62,1400)(7.74,1400)(7.86,1400)(7.98,1400)(8.1,1400)(8.22,1400)(8.34,1400)(8.46,1400)(8.58,1400)(8.7,1400)(8.82,1400)(8.94,1400)(9.06,1400)(9.18,1400)(9.3,1400)
(7.8,1350)(7.92,1350)(8.04,1350)(8.16,1350)(8.28,1350)(8.4,1350)(8.52,1350)(8.64,1350)(8.76,1350)(8.88,1350)(9.0,1350)(9.12,1350)(9.24,1350)(9.3,1350)
(7.3,1300)(8.0,1300)(8.15,1300)(8.3,1300)(8.45,1300)(8.6,1300)(8.75,1300)(8.9,1300)(9.05,1300)(9.2,1300)(9.3,1300)
(8.1,1250)(8.25,1250)(8.4,1250)(8.55,1250)(8.7,1250)(8.85,1250)(9.0,1250)(9.15,1250)(9.29,1250)
(8.3,1200)(8.45,1200)(8.6,1200)(8.75,1200)(8.9,1200)(9.05,1200)(9.2,1200)(9.29,1200)
(8.4,1150)(8.6,1150)(8.8,1150)(9.0,1150)(9.2,1150)(9.29,1150)
(8.5,1100)(8.75,1100)(9.1,1100)(9.29,1100)
(8.7,1050)(9.29,1050)
(9.0,1000)(9.1,1000)(9.29,1000)
(9.29,950)(9.29,900)(9.29,850)(9.29,800)(9.29,750)(9.3,680)(9.29,600)(9.3,520)(9.29,450)
(9.27,350)(9.32,350)(9.27,300)(9.32,300)(9.27,250)(9.32,250)(9.27,200)(9.32,200)(9.27,150)(9.32,150)(9.27,100)(9.32,100)(9.27,50)(9.32,50)
};
\addlegendentry{SP3}
\end{axis}
\pgfresetboundingbox
\path[use as bounding box] ([xshift=-77.3pt,yshift=-48.7pt]current axis.south west) rectangle ([xshift=-1.3pt,yshift=16pt]current axis.north east);
\end{tikzpicture}
\end{document}
